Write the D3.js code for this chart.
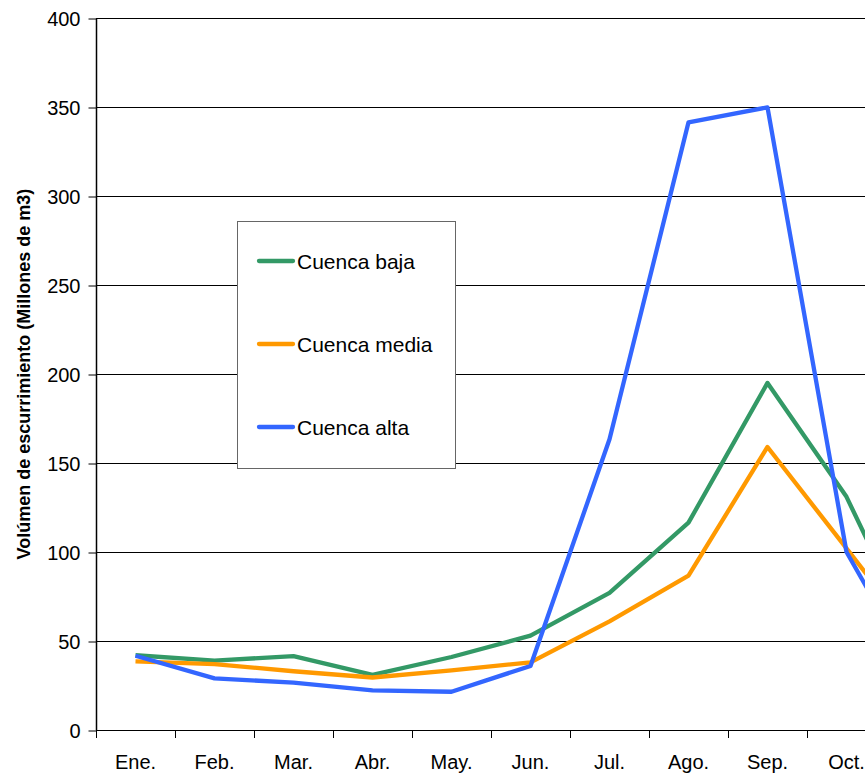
<!DOCTYPE html>
<html>
<head>
<meta charset="utf-8">
<script src="https://cdn.jsdelivr.net/npm/d3@7"></script>
<style>
  html, body { margin: 0; padding: 0; background: #fff; overflow: hidden; }
  svg { display: block; font-family: "Liberation Sans", Arial, sans-serif; }
</style>
</head>
<body>
<svg id="chart" width="865" height="775"></svg>
<script>
const months = ["Ene.", "Feb.", "Mar.", "Abr.", "May.", "Jun.", "Jul.", "Ago.", "Sep.", "Oct.", "Nov.", "Dic."];
const cuencaBaja  = [42, 39, 41.5, 31, 41, 53, 77, 116.5, 195, 131, 38];
const cuencaMedia = [38.5, 37, 33, 29.5, 33.5, 38, 61, 86.7, 159, 102, 45];
const cuencaAlta  = [41.7, 29, 26.6, 22.3, 21.5, 36, 163.3, 341.4, 349.8, 100, 22];
const seriesNames = ["Cuenca baja", "Cuenca media", "Cuenca alta"];
const seriesColors = ["#339966", "#FF9900", "#3366FF"];
const yTicks = [0, 50, 100, 150, 200, 250, 300, 350, 400];
const yTitle = "Volúmen de escurrimiento (Millones de m3)";

const series = [cuencaBaja, cuencaMedia, cuencaAlta];

const svg = d3.select("#chart");
const mLeft = 96, mTop = 18, mBottom = 730, band = 79;

const x = d3.scaleBand().domain(months).range([mLeft, mLeft + band * months.length]).padding(0);
const y = d3.scaleLinear().domain([0, 400]).range([mBottom, mTop]);

// gridlines
svg.append("g").selectAll("line").data(yTicks.filter(d => d > 0)).join("line")
  .attr("x1", mLeft).attr("x2", 1100)
  .attr("y1", d => y(d) + 0.5).attr("y2", d => y(d) + 0.5)
  .attr("stroke", "#000").attr("stroke-width", 1);

// y axis
const yAxis = d3.axisLeft(y).tickValues(yTicks).tickSize(8).tickPadding(8).tickFormat(d3.format("d"));
const gy = svg.append("g").attr("transform", `translate(${mLeft + 0.5},0.5)`).call(yAxis);
gy.select(".domain").attr("stroke", "#000").attr("stroke-width", 1.5).attr("d", `M0,${mTop}V${mBottom}`);
gy.selectAll(".tick line").attr("stroke", "#000");
gy.selectAll(".tick text").attr("font-size", 20).attr("fill", "#000")
  .attr("font-family", "'Liberation Sans', Arial, sans-serif").attr("dy", "0.36em");

// x axis
const xAxis = d3.axisBottom(x).tickSize(0).tickPadding(0);
const gx = svg.append("g").attr("transform", `translate(0,${mBottom + 0.5})`).call(xAxis);
gx.select(".domain").attr("stroke", "#000").attr("stroke-width", 1).attr("d", `M${mLeft},0H1100`);
gx.selectAll(".tick text").attr("font-size", 20).attr("fill", "#000")
  .attr("font-family", "'Liberation Sans', Arial, sans-serif")
  .attr("dy", 0).attr("y", 38);
// boundary tick marks between categories
svg.append("g").selectAll("line").data(months).join("line")
  .attr("x1", d => x(d) + 0.5).attr("x2", d => x(d) + 0.5)
  .attr("y1", mBottom).attr("y2", mBottom + 8)
  .attr("stroke", "#000").attr("stroke-width", 1);

// y title
svg.append("text")
  .attr("transform", `translate(30,374) rotate(-90)`)
  .attr("text-anchor", "middle")
  .attr("font-size", 18).attr("font-weight", "bold").attr("fill", "#000")
  .text(yTitle);

// lines
const line = d3.line()
  .x((d, i) => x(months[i]) + x.bandwidth() / 2)
  .y(d => y(d));
series.forEach((s, k) => {
  svg.append("path").datum(s)
    .attr("d", line)
    .attr("fill", "none")
    .attr("stroke", seriesColors[k])
    .attr("stroke-width", 4.3)
    .attr("stroke-linejoin", "round");
});

// legend
const lg = svg.append("g");
lg.append("rect").attr("x", 237.5).attr("y", 221.5).attr("width", 218).attr("height", 247)
  .attr("fill", "#fff").attr("stroke", "#666").attr("stroke-width", 1);
const legY = [261, 344, 427];
seriesNames.forEach((name, k) => {
  lg.append("line").attr("x1", 259).attr("x2", 293).attr("y1", legY[k]).attr("y2", legY[k])
    .attr("stroke", seriesColors[k]).attr("stroke-width", 4.3).attr("stroke-linecap", "round");
  lg.append("text").attr("x", 297).attr("y", legY[k] + 8)
    .attr("font-size", 21).attr("fill", "#000").text(name);
});
</script>
</body>
</html>
